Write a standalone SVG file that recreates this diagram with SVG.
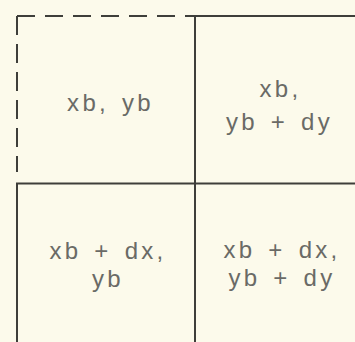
<svg xmlns="http://www.w3.org/2000/svg" width="355" height="342" viewBox="0 0 355 342">
  <style>
    .ln { stroke: #3e3e3a; stroke-width: 2; fill: none; }
    .dh { stroke-dasharray: 18 10; }
    .dv { stroke-dasharray: 19 9; }
    .t { font-family: "Liberation Sans", Arial, sans-serif; font-size: 24px; fill: #6a6a66; text-anchor: middle; letter-spacing: 3.3px; word-spacing: 3px; }
  </style>
  <rect width="355" height="342" fill="#fcfaeb"/>
  <g id="connectors">
    <line class="ln dh" x1="17" y1="16" x2="195" y2="16"/>
    <line class="ln dv" x1="17" y1="16" x2="17" y2="172"/>
    <line class="ln" x1="195" y1="16" x2="355" y2="16"/>
    <line class="ln" x1="195" y1="15" x2="195" y2="342"/>
    <line class="ln" x1="16" y1="183.5" x2="355" y2="183.5"/>
    <line class="ln" x1="17" y1="183" x2="17" y2="342"/>
  </g>
  <g id="cell-tl">
    <text class="t" x="110.5" y="111">xb, yb</text>
  </g>
  <g id="cell-tr">
    <text class="t" x="280.5" y="97">xb,</text>
    <text class="t" x="279.5" y="130">yb + dy</text>
  </g>
  <g id="cell-bl">
    <text class="t" x="108" y="259">xb + dx,</text>
    <text class="t" x="108" y="287">yb</text>
  </g>
  <g id="cell-br">
    <text class="t" x="282" y="258">xb + dx,</text>
    <text class="t" x="282" y="286">yb + dy</text>
  </g>
</svg>
